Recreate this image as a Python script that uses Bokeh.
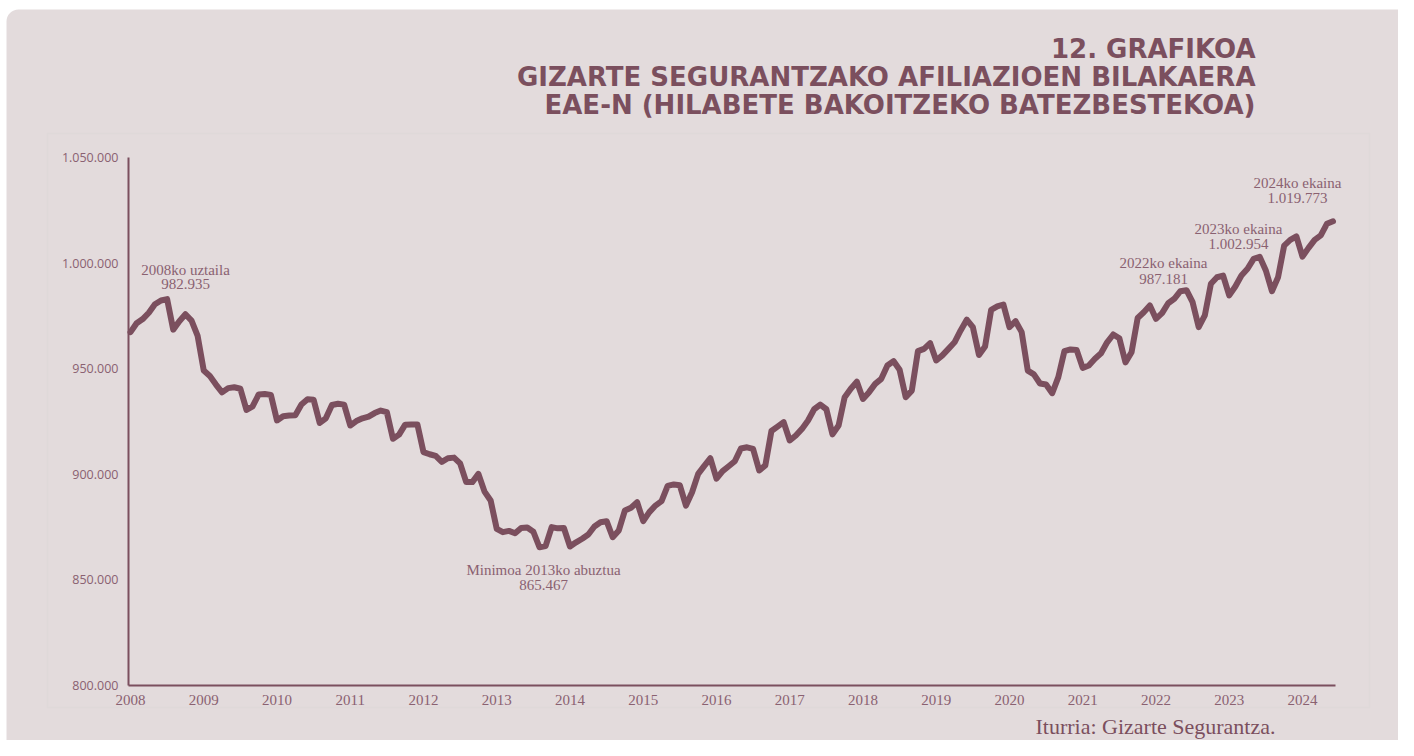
from bokeh.plotting import figure
from bokeh.models import Range1d, LinearAxis, FixedTicker, Label, BoxAnnotation
from bokeh.embed import file_html
from bokeh.resources import INLINE

# ---------------- data (monthly averages, Jan 2008 - Jun 2024) ----------------
years = [str(y) for y in range(2008, 2025)]
v2008 = [967300, 971500, 973500, 976500, 980500, 982300, 982935, 968500, 972500, 975800, 972800, 965500]
v2009 = [949100, 946500, 942500, 938800, 940800, 941200, 940500, 930500, 932200, 937800, 938000, 937600]
v2010 = [925500, 927500, 927800, 928000, 933000, 935500, 935300, 924300, 926500, 932800, 933400, 933000]
v2011 = [923100, 925200, 926500, 927300, 929000, 930200, 929400, 916800, 918800, 923500, 923600, 923600]
v2012 = [910500, 909500, 908700, 905900, 907600, 907900, 905200, 896300, 896300, 900200, 891800, 887600]
v2013 = [874200, 872600, 873200, 872100, 874600, 874800, 872800, 865467, 866000, 875000, 874400, 874600]
v2014 = [865800, 867800, 869500, 871500, 875300, 877300, 877800, 870200, 873400, 882900, 884200, 886800]
v2015 = [877800, 882100, 885200, 887300, 894500, 895200, 894800, 885200, 891500, 900200, 904000, 907600]
v2016 = [897900, 901500, 903800, 906200, 912200, 912800, 912000, 901800, 904200, 920500, 922600, 924700]
v2017 = [916000, 918400, 921500, 925500, 930800, 933000, 930800, 918900, 923100, 936500, 940500, 943800]
v2018 = [935700, 938900, 942800, 945200, 951500, 953600, 949500, 936500, 939600, 958300, 959400, 962100]
v2019 = [953900, 956300, 959400, 962500, 968100, 973200, 969700, 956500, 960500, 977900, 979500, 980400]
v2020 = [969700, 972500, 967300, 949100, 947300, 943000, 942500, 938400, 946000, 958300, 959100, 958900]
v2021 = [950400, 951500, 954700, 957300, 962500, 966200, 964400, 953000, 957800, 974000, 976700, 979900]
v2022 = [973600, 976300, 981000, 983100, 986700, 987181, 981500, 969700, 975200, 990200, 993300, 994100]
v2023 = [984700, 988900, 994100, 997300, 1002000, 1002954, 996500, 986700, 993300, 1008300, 1011000, 1012600]
v2024 = [1003100, 1007200, 1011000, 1013100, 1018600, 1019773]

y_ticks = [800000, 850000, 900000, 950000, 1000000, 1050000]
y_tick_labels = ["800.000", "850.000", "900.000", "950.000", "1.000.000", "1.050.000"]

ann_line1 = ["2008ko uztaila", "Minimoa 2013ko abuztua", "2022ko ekaina", "2023ko ekaina", "2024ko ekaina"]
ann_line2 = ["982.935", "865.467", "987.181", "1.002.954", "1.019.773"]

title_lines = ["12. GRAFIKOA",
               "GIZARTE SEGURANTZAKO AFILIAZIOEN BILAKAERA",
               "EAE-N (HILABETE BAKOITZEKO BATEZBESTEKOA)"]
source_text = "Iturria: Gizarte Segurantza."

values = (v2008 + v2009 + v2010 + v2011 + v2012 + v2013 + v2014 + v2015 + v2016 +
          v2017 + v2018 + v2019 + v2020 + v2021 + v2022 + v2023 + v2024)
months = list(range(len(values)))

# ---------------- styling ----------------
CARD = "#e3dbdc"
PANEL_BORDER = "#d6d3d4"
WINE = "#7b4f5e"
TEXT = "#8a6171"

# pixel geometry (picture coords) -> data coords
PX_PER_MONTH = 6.104
X0_PX = 130.0            # x of Jan 2008
PX_PER_UNIT = 2.112 / 1000.0
Y_TOP_PX = 157.0         # y of 1.050.000

def mx(px):
    return (px - X0_PX) / PX_PER_MONTH

def vy(py):
    return 1050000 - (py - Y_TOP_PX) / PX_PER_UNIT

W, H = 1398, 740
p = figure(width=W, height=H, output_backend="svg", toolbar_location=None,
           x_range=Range1d(mx(0), mx(W)), y_range=Range1d(vy(H), vy(0)),
           x_axis_type=None, y_axis_type=None,
           min_border_left=0, min_border_right=0, min_border_top=0, min_border_bottom=0)
p.background_fill_color = "white"
p.border_fill_color = "white"
p.outline_line_color = None

# card and inner panel
p.add_layout(BoxAnnotation(left=mx(6), right=mx(1408), top=vy(9), bottom=vy(800),
                           fill_color=CARD, fill_alpha=1, line_color=None,
                           border_radius=12, level="underlay"))
p.add_layout(BoxAnnotation(left=mx(47), right=mx(1369), top=vy(133), bottom=vy(707),
                           fill_alpha=0, line_color=PANEL_BORDER, line_width=1.5,
                           level="underlay"))

x_axis_start = mx(128)
x_axis_end = mx(1335)

yaxis = LinearAxis(fixed_location=x_axis_start, bounds=(800000, 1050000),
                   ticker=FixedTicker(ticks=y_ticks),
                   major_label_overrides={t: l for t, l in zip(y_ticks, y_tick_labels)},
                   axis_line_color=WINE, axis_line_width=2,
                   major_tick_line_color=None, minor_tick_line_color=None,
                   major_label_standoff=4,
                   major_label_text_font="Open Sans",
                   major_label_text_font_size="12.5px",
                   major_label_text_color=TEXT)
p.add_layout(yaxis, "left")

x_ticks = [12 * i for i in range(len(years))]
xaxis = LinearAxis(fixed_location=800000, bounds=(x_axis_start, x_axis_end),
                   ticker=FixedTicker(ticks=x_ticks),
                   major_label_overrides={t: l for t, l in zip(x_ticks, years)},
                   axis_line_color=WINE, axis_line_width=2,
                   major_tick_line_color=None, minor_tick_line_color=None,
                   major_label_standoff=3,
                   major_label_text_font="Liberation Serif",
                   major_label_text_font_size="15px",
                   major_label_text_color=TEXT)
p.add_layout(xaxis, "below")

p.line(months, values, line_width=6, line_color=WINE, line_join="round", line_cap="round")

# annotations
ann_pos = [(185, 269, 283), (543, 569, 584), (1163, 262, 278), (1238, 228, 243), (1297, 182, 197)]
for (cx, y1, y2), t1, t2 in zip(ann_pos, ann_line1, ann_line2):
    for yy, tt in ((y1, t1), (y2, t2)):
        p.add_layout(Label(x=mx(cx), y=vy(yy), text=tt, text_align="center",
                           text_baseline="middle", text_font="Liberation Serif",
                           text_font_size="15px", text_color=TEXT))

# titles (right aligned)
for yy, tt in zip((48, 76, 104), title_lines):
    p.add_layout(Label(x=mx(1255), y=vy(yy), text=tt, text_align="right",
                       text_baseline="middle", text_font="DejaVu Sans",
                       text_font_style="bold", text_font_size="26px", text_color=WINE))

p.add_layout(Label(x=mx(1275), y=vy(726), text=source_text, text_align="right",
                   text_baseline="middle", text_font="Liberation Serif",
                   text_font_size="22px", text_color=WINE))

open("out.html", "w").write(file_html(p, INLINE))
